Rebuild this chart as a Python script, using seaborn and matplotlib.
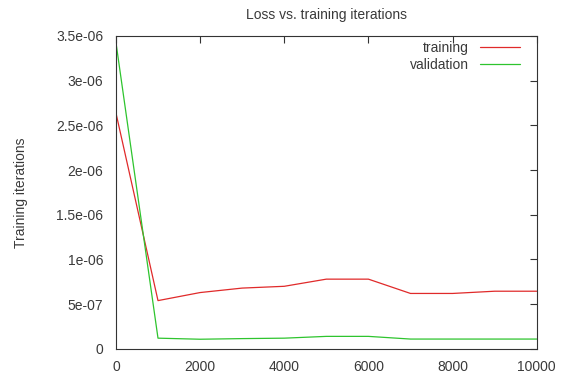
import pandas as pd
import matplotlib
matplotlib.use("Agg")
import matplotlib.pyplot as plt
import seaborn as sns

# valori
iterations = [0, 1000, 2000, 3000, 4000, 5000, 6000, 7000, 8000, 9000, 10000]
training = [2.64e-6, 0.54e-6, 0.63e-6, 0.68e-6, 0.70e-6, 0.78e-6, 0.78e-6,
            0.62e-6, 0.62e-6, 0.645e-6, 0.645e-6]
validation = [3.43e-6, 0.12e-6, 0.108e-6, 0.115e-6, 0.12e-6, 0.14e-6, 0.14e-6,
              0.11e-6, 0.11e-6, 0.11e-6, 0.11e-6]

yticks = [0, 5e-7, 1e-6, 1.5e-6, 2e-6, 2.5e-6, 3e-6, 3.5e-6]
ytick_labels = ["0", "5e-07", "1e-06", "1.5e-06", "2e-06", "2.5e-06", "3e-06", "3.5e-06"]
xticks = [0, 2000, 4000, 6000, 8000, 10000]

df = pd.DataFrame({
    "iter": iterations * 2,
    "loss": training + validation,
    "serie": ["training"] * len(iterations) + ["validation"] * len(iterations),
})

sns.set_style("white")
plt.rcParams["font.family"] = ["Liberation Sans", "DejaVu Sans"]
text_col = "#3a3a3a"

fig = plt.figure(figsize=(5.71, 3.78), dpi=100)
ax = fig.add_axes([0.203, 0.077, 0.737, 0.828])

sns.lineplot(data=df, x="iter", y="loss", hue="serie",
             palette={"training": "#e02a2a", "validation": "#2ec42e"},
             linewidth=0.9, ax=ax)

ax.set_xlim(0, 10000)
ax.set_ylim(0, 3.5e-6)
ax.set_xticks(xticks)
ax.set_xticklabels([str(x) for x in xticks])
ax.set_yticks(yticks)
ax.set_yticklabels(ytick_labels)
ax.tick_params(direction="in", length=5, width=0.8, color="#333333",
               top=True, right=True, labelsize=10, labelcolor=text_col)
ax.tick_params(axis="y", pad=9)
ax.tick_params(axis="x", pad=8)

for s in ax.spines.values():
    s.set_color("#333333")
    s.set_linewidth(0.8)

ax.set_xlabel("")
ax.set_ylabel("Training iterations", fontsize=10, color=text_col, labelpad=20)
ax.set_title("Loss vs. training iterations", fontsize=10, color=text_col, pad=12)

leg = ax.legend(loc="upper right", bbox_to_anchor=(0.96, 0.985), frameon=False,
                markerfirst=False, fontsize=10, handlelength=2.9, handletextpad=0.8,
                labelspacing=0.22, borderaxespad=0, borderpad=0)
for t in leg.get_texts():
    t.set_color(text_col)

fig.savefig("out.png", dpi=100)
